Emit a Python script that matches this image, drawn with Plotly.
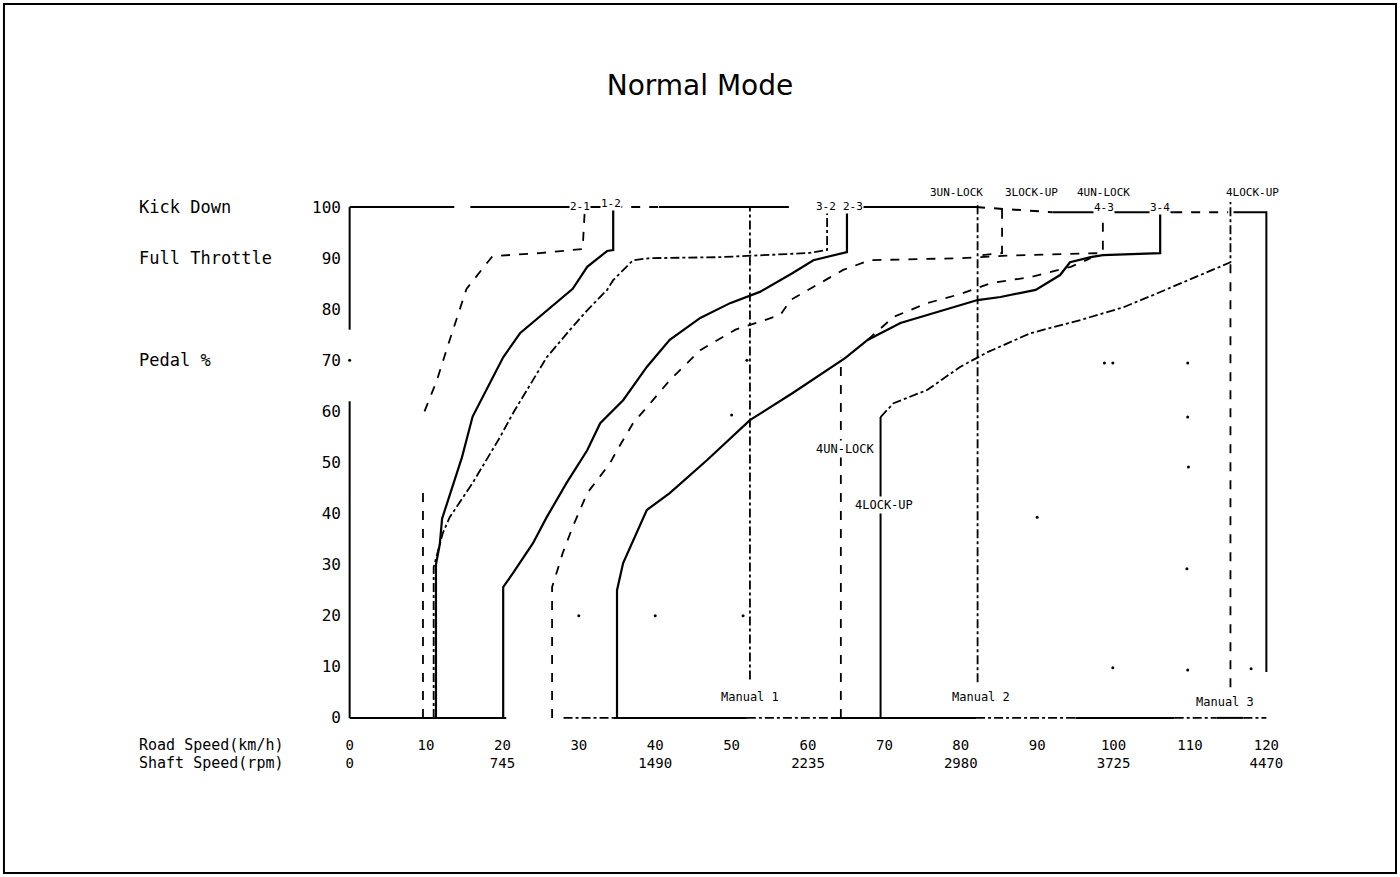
import plotly.graph_objects as go

# Normal Mode shift schedule: road speed (km/h) vs pedal opening (%)
# values, None splits a line into pieces

speed_ticks = [0, 10, 20, 30, 40, 50, 60, 70, 80, 90, 100, 110, 120]
shaft_rpm = ['0', '', '745', '', '1490', '', '2235', '', '2980', '', '3725', '', '4470']
pedal_ticks = [0, 10, 20, 30, 40, 50, 60, 70, 80, 90, 100]

# frame lines of the chart
left_v = [0, 0, None, 0, 0]
left_p = [0, 62, None, 76, 100]
kick_v = [0, 13.7, None, 15.8, 34.5, None, 40.5, 57.5, None, 65.1, 82, None, 92, 107.8, None, 115.7, 120, 120]
kick_p = [100, 100, None, 100, 100, None, 100, 100, None, 100, 100, None, 99, 99, None, 99, 99, 9]
kick_dash_v = [34.5, 40.5, None, 82, 92, None, 107.8, 115]
kick_dash_p = [100, 100, None, 100, 99, None, 99, 99]
base_v = [0, 20.5, None, 34.5, 52, None, 63, 82, None, 95, 108, None, 113.5, 117]
base_p = [0, 0, None, 0, 0, None, 0, 0, None, 0, 0, None, 0, 0]
base_dash_v = [28, 34.5, None, 52, 63, None, 82, 95, None, 108, 113.5, None, 117, 120]
base_dash_p = [0, 0, None, 0, 0, None, 0, 0, None, 0, 0, None, 0, 0]

# shift lines
down21_v = [9.6, 9.6, None, 9.8, 11.4, 13.1, 15.3, 18.7, 24.9, 30.5, 30.8]
down21_p = [0, 45, None, 60, 66, 74, 84, 90.4, 91, 91.8, 100]

up12_v = [11.3, 11.3, 11.8, 12.1, 14.7, 16.1, 20.1, 22.3, 29.2, 31.1, 33.7, 34.5, 34.5]
up12_p = [0, 30, 34, 39, 51, 59, 70.6, 75.3, 84, 88.3, 91.4, 91.6, 100]

down32_v = [11, 11, 12.2, 13.1, 16.1, 18.7, 19.7, 21.4, 23.2, 25.8, 28.8, 31.1, 33.7,
            34.5, 37.1, 39.3, 48.5, 60, 62.5, 62.5]
down32_p = [0, 29.5, 36.2, 39.3, 46, 52.4, 55, 59.7, 64.2, 70.6, 75.9, 79.8, 83.8,
            85.7, 89.6, 90, 90.2, 91, 91.6, 100]

up23_v = [20.1, 20.1, 21.4, 24, 25.8, 28.4, 31.1, 32.8, 35.8, 38.9, 41.9, 45.9, 49.8,
          53.7, 58, 60.7, 65.1, 65.1]
up23_p = [0, 25.6, 28.4, 34.2, 39.3, 46, 52.4, 57.7, 62.2, 68.7, 74, 78.3, 81.2,
          83.4, 87.1, 89.6, 91.2, 100]

down43_v = [26.5, 26.5, 27.9, 29.2, 31.1, 34.1, 35, 37.1, 39.7, 41.9, 45.9, 50.5, 56.4,
            57.7, 64.6, 68.1, 80, 86, 98.6, 98.6]
down43_p = [0, 25.6, 32.3, 37.4, 44, 49.9, 52.4, 57.7, 62.2, 66.1, 72, 76, 78.9,
            81.8, 87.7, 89.6, 90, 90.5, 91, 99]

up34_v = [35, 35, 35.8, 37.1, 38.9, 41.9, 46.8, 52.4, 58, 64.9, 67.8, 72.1, 77.7, 82.2,
          85.2, 89.8, 93, 94.3, 97, 98.6, 106.1, 106.1]
up34_p = [0, 25, 30.3, 34.8, 40.7, 44, 50.5, 58.3, 63.6, 70.5, 74, 77.3, 79.8, 81.8,
          82.4, 83.8, 86.7, 89.2, 90.2, 90.6, 91, 99]

unlock4_v = [64.3, 64.3, None, 67.8, 71.2, 75.6, 80, 83.9, 89.1, 94.4, 97]
unlock4_p = [0, 70.5, None, 74, 78.5, 81.2, 83, 85.1, 86.3, 88.3, 90]

lockup4_base_v = [69.5, 69.5]
lockup4_base_p = [0, 58.9]
lockup4_v = [69.5, 71.2, 75.6, 79.9, 83.5, 89.1, 95.7, 101.3, 105.2, 108.8, 115.3, 115.3]
lockup4_p = [58.9, 61.6, 64.2, 68.7, 71.6, 75.3, 77.9, 80.4, 82.8, 85.1, 89.2, 102]

manual1_v = [52.4, 52.4]
manual1_p = [7.5, 100]
manual2_v = [82.2, 82.2]
manual2_p = [7, 102]
manual3_v = [115.3, 115.3]
manual3_p = [6, 89.2]
lockup3_v = [85.4, 85.4, 82.2]
lockup3_p = [103, 91, 90.5]

# stray grid dots left on the scan
dot_v = [0, 30, 40, 50, 52, 51.5, 90, 98.8, 99.9, 109.7, 109.7, 109.8, 109.6, 99.9, 109.7, 118]
dot_p = [70, 20, 20, 59.3, 70, 20, 39.3, 69.5, 69.5, 69.5, 58.9, 49.1, 29.2, 9.8, 9.4, 9.6]

# labels above the frame: text, speed, pedal
top_labels = ['2-1', '1-2', '3-2', '2-3', '3UN-LOCK', '3LOCK-UP', '4UN-LOCK', '4-3', '3-4', '4LOCK-UP']
top_label_v = [30.2, 34.2, 62.3, 65.9, 79.5, 89.3, 98.7, 98.7, 106.1, 118.2]
top_label_p = [101.6, 102.2, 101.6, 101.6, 104.3, 104.3, 104.3, 101.4, 101.4, 104.3]
# labels inside the frame
mid_labels = ['4UN-LOCK', '4LOCK-UP', 'Manual 1', 'Manual 2', 'Manual 3']
mid_label_v = [64.9, 69.9, 52.4, 82.6, 114.6]
mid_label_p = [52.6, 41.7, 4.1, 4.1, 3.1]

mono = 'DejaVu Sans Mono'
y_lo, y_hi = -1, 101
fig = go.Figure()


def add_line(v, p, dash='solid', width=2):
    fig.add_trace(go.Scatter(x=v, y=p, mode='lines', showlegend=False, hoverinfo='skip',
                             line=dict(color='black', width=width, dash=dash)))


add_line(left_v, left_p)
add_line(kick_v, kick_p)
add_line(kick_dash_v, kick_dash_p, 'dash')
add_line(base_v, base_p)
add_line(base_dash_v, base_dash_p, 'dashdot', 1.6)

add_line(down21_v, down21_p, 'dash', 1.8)
add_line(up12_v, up12_p, 'solid', 2.2)
add_line(down32_v, down32_p, 'dashdot', 1.8)
add_line(up23_v, up23_p, 'solid', 2.2)
add_line(down43_v, down43_p, 'dash', 1.8)
add_line(up34_v, up34_p, 'solid', 2.2)
add_line(unlock4_v, unlock4_p, 'dash', 1.8)
add_line(lockup4_base_v, lockup4_base_p, 'solid', 2)
add_line(lockup4_v, lockup4_p, 'dashdot', 1.8)
add_line(manual1_v, manual1_p, 'dashdot', 1.8)
add_line(manual2_v, manual2_p, 'dashdot', 1.8)
add_line(manual3_v, manual3_p, 'dash', 1.8)
add_line(lockup3_v, lockup3_p, 'dash', 1.8)

fig.add_trace(go.Scatter(x=dot_v, y=dot_p, mode='markers', showlegend=False, hoverinfo='skip',
                         marker=dict(color='black', size=3)))

# labels above the plot area would be dropped in data coords, so place them in paper y
for t, v, p in zip(top_labels, top_label_v, top_label_p):
    fig.add_annotation(x=v, y=(p - y_lo) / (y_hi - y_lo), text=t, showarrow=False,
                       xref='x', yref='paper',
                       font=dict(family=mono, size=11, color='black'), bgcolor='white', borderpad=0)
for t, v, p in zip(mid_labels, mid_label_v, mid_label_p):
    fig.add_annotation(x=v, y=p, text=t, showarrow=False, xref='x', yref='y',
                       font=dict(family=mono, size=12, color='black'), bgcolor='white', borderpad=1)

for t, p in [('Kick Down', 100), ('Full Throttle', 90), ('Pedal %', 70)]:
    fig.add_annotation(x=-0.22, y=p, xref='paper', yref='y', text=t, showarrow=False,
                       xanchor='left', font=dict(family=mono, size=17, color='black'))
fig.add_annotation(x=-0.22, y=-0.043, xref='paper', yref='paper', text='Road Speed(km/h)',
                   showarrow=False, xanchor='left', yanchor='middle',
                   font=dict(family=mono, size=15, color='black'))
fig.add_annotation(x=-0.22, y=-0.077, xref='paper', yref='paper', text='Shaft Speed(rpm)',
                   showarrow=False, xanchor='left', yanchor='middle',
                   font=dict(family=mono, size=15, color='black'))

tick_text = [f'{s}<br>{r}' if r else str(s) for s, r in zip(speed_ticks, shaft_rpm)]

fig.update_layout(
    width=1400, height=877,
    margin=dict(l=342, r=126, t=202, b=154),
    paper_bgcolor='white', plot_bgcolor='white',
    title=dict(text='Normal Mode', x=0.5, xanchor='center', y=0.903, yanchor='middle',
               font=dict(family='DejaVu Sans', size=28, color='black')),
    xaxis=dict(range=[-1, 121], tickvals=speed_ticks, ticktext=tick_text, showgrid=False,
               zeroline=False, showline=False, ticks='', ticklabelstandoff=12,
               tickfont=dict(family=mono, size=14, color='black')),
    yaxis=dict(range=[y_lo, y_hi], tickvals=pedal_ticks, showgrid=False, zeroline=False,
               showline=False, ticks='', tickfont=dict(family=mono, size=16, color='black')),
    shapes=[dict(type='rect', xref='paper', yref='paper', x0=-0.3627, x1=1.1309,
                 y0=-0.2879, y1=1.380, line=dict(color='black', width=2))],
)

fig.write_html('out.html', config={'displayModeBar': False},
               post_script="document.body.style.margin = '0';")
